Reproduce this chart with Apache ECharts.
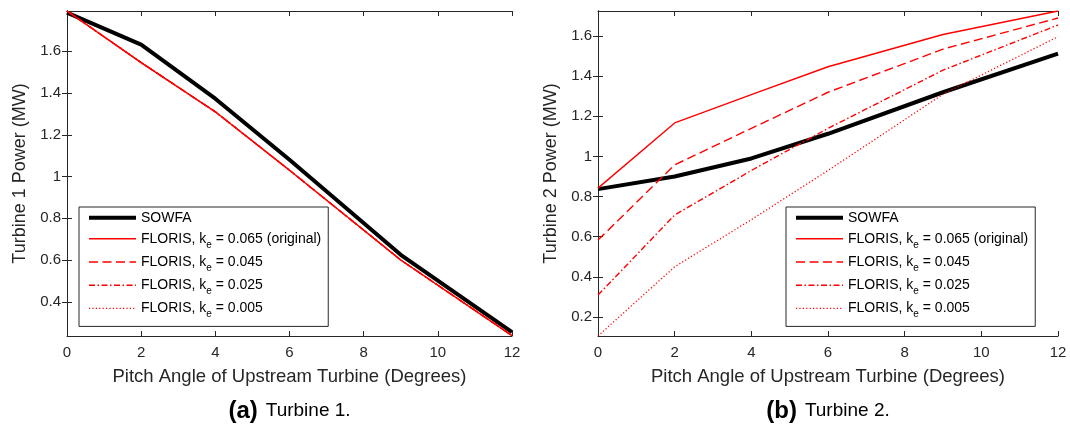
<!DOCTYPE html>
<html>
<head>
<meta charset="utf-8">
<script src="https://cdn.jsdelivr.net/npm/echarts@6/dist/echarts.min.js"></script>
<style>
html,body{margin:0;padding:0;background:#fff;}
#chart{width:1070px;height:426px;}
</style>
</head>
<body>
<div id="chart"></div>
<script>
// ---- data ----
const pitch = [0, 2, 4, 6, 9, 12];
const xTicks = [0, 2, 4, 6, 8, 10, 12];
const t1YTicks = [0.4, 0.6, 0.8, 1, 1.2, 1.4, 1.6];
const t2YTicks = [0.2, 0.4, 0.6, 0.8, 1, 1.2, 1.4, 1.6];
const t1Range = [0.236, 1.793];
const t2Range = [0.105, 1.725];

const t1Sowfa = [1.785, 1.632, 1.373, 1.08, 0.625, 0.255];
const t1Floris = [1.793, 1.546, 1.31, 1.03, 0.60, 0.238];

const t2Sowfa = [0.837, 0.90, 0.99, 1.113, 1.32, 1.513];
const t2Ke065 = [0.842, 1.167, 1.308, 1.447, 1.608, 1.725];
const t2Ke045 = [0.583, 0.958, 1.14, 1.32, 1.535, 1.69];
const t2Ke025 = [0.309, 0.708, 0.93, 1.14, 1.43, 1.655];
const t2Ke005 = [0.105, 0.45, 0.685, 0.93, 1.31, 1.597];

const seriesNames = ['SOWFA', 'FLORIS k0.065', 'FLORIS k0.045', 'FLORIS k0.025', 'FLORIS k0.005'];
const keLabels = [null, '0.065 (original)', '0.045', '0.025', '0.005'];
const xTitle = 'Pitch Angle of Upstream Turbine (Degrees)';
const yTitles = ['Turbine 1 Power (MW)', 'Turbine 2 Power (MW)'];
const captions = [['(a)', 'Turbine 1.'], ['(b)', 'Turbine 2.']];

// ---- styles ----
const FONT = '"Liberation Sans", Arial, Helvetica, sans-serif';
const AX = '#262626';
const lineTypes = ['solid', 'solid', [9, 4.5], [6, 2.5, 1.5, 2.5], [1.2, 2.2]];
const lineColors = ['#000000', '#ff0000', '#ff0000', '#ff0000', '#ff0000'];
const lineWidths = [4, 1.4, 1.4, 1.4, 1.3];

const grids = [
  {left: 67, top: 11, width: 445, height: 325},
  {left: 598, top: 11, width: 460, height: 325}
];

function pairs(xs, ys){ return xs.map((x, i) => [x, ys[i]]); }

const xAxes = [], yAxes = [];
[t1Range, t2Range].forEach((rng, g) => {
  const yt = g === 0 ? t1YTicks : t2YTicks;
  xAxes.push({
    type: 'value', gridIndex: g, min: 0, max: 12, interval: 2, position: 'bottom',
    name: xTitle, nameLocation: 'middle', nameGap: 31,
    nameTextStyle: {fontFamily: FONT, fontSize: 18.5, color: AX},
    axisLine: {show: true, lineStyle: {color: AX, width: 1}},
    axisTick: {show: true, inside: true, length: 5, lineStyle: {color: AX}},
    axisLabel: {show: true, margin: 9, fontFamily: FONT, fontSize: 15, color: AX},
    splitLine: {show: false}
  });
  xAxes.push({
    type: 'value', gridIndex: g, min: 0, max: 12, interval: 2, position: 'top',
    axisLine: {show: true, lineStyle: {color: AX, width: 1}},
    axisTick: {show: true, inside: true, length: 5, lineStyle: {color: AX}},
    axisLabel: {show: false}, splitLine: {show: false}
  });
  yAxes.push({
    type: 'value', gridIndex: g, min: rng[0], max: rng[1], position: 'left',
    name: yTitles[g], nameLocation: 'middle', nameGap: 38,
    nameTextStyle: {fontFamily: FONT, fontSize: 18, color: AX},
    axisLine: {show: true, lineStyle: {color: AX, width: 1}},
    axisTick: {show: true, inside: true, length: 5, customValues: yt, lineStyle: {color: AX}},
    axisLabel: {show: true, margin: 6, customValues: yt, fontFamily: FONT, fontSize: 15, color: AX},
    splitLine: {show: false}
  });
  yAxes.push({
    type: 'value', gridIndex: g, min: rng[0], max: rng[1], position: 'right',
    axisLine: {show: true, lineStyle: {color: AX, width: 1}},
    axisTick: {show: true, inside: true, length: 5, customValues: yt, lineStyle: {color: AX}},
    axisLabel: {show: false}, splitLine: {show: false}
  });
});

function mkSeries(idx, g, ys){
  return {
    type: 'line', name: seriesNames[idx], xAxisIndex: g * 2, yAxisIndex: g * 2,
    data: pairs(pitch, ys), symbol: 'none', silent: true, animation: false,
    z: idx === 0 ? 2 : (idx === 1 ? 6 : 5 - idx + 2),
    itemStyle: {color: lineColors[idx]},
    lineStyle: {color: lineColors[idx], width: lineWidths[idx], type: lineTypes[idx], cap: 'butt', join: 'round'}
  };
}

const series = [
  mkSeries(0, 0, t1Sowfa),
  mkSeries(4, 0, t1Floris),
  mkSeries(3, 0, t1Floris),
  mkSeries(2, 0, t1Floris),
  mkSeries(1, 0, t1Floris),
  mkSeries(0, 1, t2Sowfa),
  mkSeries(1, 1, t2Ke065),
  mkSeries(2, 1, t2Ke045),
  mkSeries(3, 1, t2Ke025),
  mkSeries(4, 1, t2Ke005)
];

function legendFmt(name){
  const i = seriesNames.indexOf(name);
  if (i === 0) return '{a|SOWFA}';
  return '{a|FLORIS, k}{s|e}{a| = ' + keLabels[i] + '}';
}

const legendBase = {
  orient: 'vertical', data: seriesNames, selectedMode: false,
  itemWidth: 47, itemHeight: 22, itemGap: 1.2,
  padding: [2, 7, 7, 8],
  borderColor: AX, borderWidth: 1, backgroundColor: '#fff',
  lineStyle: {width: 'inherit'},
  itemStyle: {opacity: 0, borderWidth: 0},
  formatter: legendFmt,
  textStyle: {
    fontFamily: FONT, fontSize: 14, color: '#000',
    rich: {
      a: {fontFamily: FONT, fontSize: 14, color: '#000', lineHeight: 22},
      s: {fontFamily: FONT, fontSize: 10, color: '#000', lineHeight: 10, padding: [12, 0, 0, 0]}
    }
  }
};

const legends = [
  Object.assign({}, legendBase, {left: 79, top: 207}),
  Object.assign({}, legendBase, {left: 786, top: 207})
];

const graphics = captions.map((c, g) => ({
  type: 'text',
  x: grids[g].left + grids[g].width / 2,
  y: 411,
  style: {
    text: '{b|' + c[0] + '}{n|' + c[1] + '}',
    align: 'center', verticalAlign: 'middle',
    rich: {
      b: {fontFamily: FONT, fontSize: 24, fontWeight: 'bold', fill: '#000', padding: [0, 8, 0, 0]},
      n: {fontFamily: FONT, fontSize: 19, fill: '#000'}
    }
  }
}));

const chart = echarts.init(document.getElementById('chart'), null, {renderer: 'canvas'});
chart.setOption({
  backgroundColor: '#ffffff',
  animation: false,
  grid: grids,
  xAxis: xAxes,
  yAxis: yAxes,
  legend: legends,
  series: series,
  graphic: graphics
});
</script>
</body>
</html>
